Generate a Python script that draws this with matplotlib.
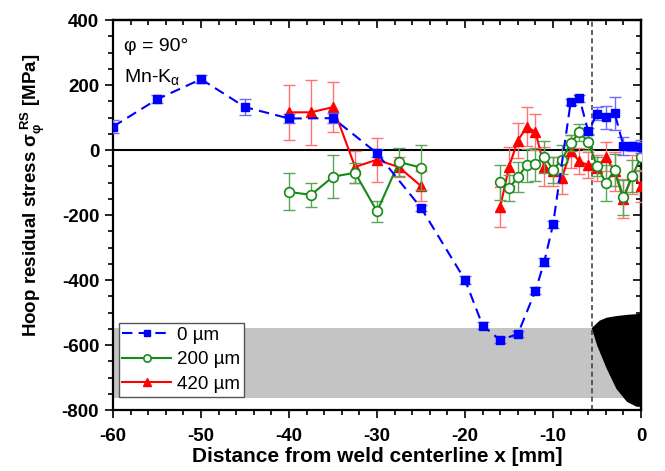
import matplotlib.pyplot as plt
from matplotlib.lines import Line2D
from matplotlib.patches import Polygon
from matplotlib.ticker import MultipleLocator

plt.rcParams['font.family'] = ['Liberation Sans', 'DejaVu Sans']
plt.rcParams['mathtext.fontset'] = 'custom'
plt.rcParams['mathtext.rm'] = 'Liberation Sans'
plt.rcParams['mathtext.it'] = 'Liberation Sans:italic'
plt.rcParams['mathtext.bf'] = 'Liberation Sans:bold'
plt.rcParams['axes.unicode_minus'] = False

# depth 0 um
x0 = [-60, -55, -50, -45, -40, -35, -30, -25, -20, -18, -16, -14, -12, -11, -10,
      -8, -7, -6, -5, -4, -3, -2, -1, 0]
s0 = [72, 156, 218, 132, 97, 98, -10, -178, -400, -540, -585, -566, -433, -344, -229,
      147, 159, 57, 111, 101, 113, 13, 11, 10]
e0 = [20, 12, 12, 25, 15, 15, 12, 10, 12, 12, 10, 10, 10, 12, 12,
      10, 10, 10, 20, 35, 50, 27, 15, 20]

# depth 200 um
x200 = [-40, -37.5, -35, -32.5, -30, -27.5, -25, -16, -15, -14, -13, -12, -11, -10,
        -9, -8, -7, -6, -5, -4, -3, -2, -1, 0]
s200 = [-129, -138, -82, -70, -189, -37, -54, -99, -118, -83, -47, -44, -21, -60,
        -30, 22, 54, 25, -50, -101, -62, -146, -80, -21]
e200 = [57, 38, 67, 31, 33, 42, 70, 54, 40, 45, 50, 50, 50, 40,
        45, 25, 25, 25, 30, 55, 50, 55, 50, 45]

# depth 420 um
x420 = [-40, -37.5, -35, -32.5, -30, -27.5, -25, -16, -15, -14, -13, -12, -11, -10,
        -9, -8, -7, -6, -5, -4, -3, -2, -1, 0]
s420 = [116, 116, 132, -52, -30, -53, -111, -175, -51, 29, 71, 56, -52, -66,
        -86, -4, -35, -47, -55, -21, -66, -150, -76, -111]
e420 = [85, 100, 76, 48, 68, 31, 46, 62, 60, 55, 60, 55, 60, 45,
        50, 50, 40, 40, 40, 45, 60, 60, 60, 50]

# weld bead cross-section outline
weld_x = [-5.6, -4.7, -3.9, -2.8, -1.5, 0, 0, -0.5, -1.6, -2.8, -3.9, -5.0]
weld_y = [-548, -525, -516, -511, -507, -504, -790, -790, -775, -735, -673, -601]
fusion_x = -5.6
band = (-762, -547)


def segments(x, y, gap=6):
    # split a scan into pieces where the measurement positions jump
    parts, start = [], 0
    for i in range(1, len(x)):
        if x[i] - x[i - 1] > gap:
            parts.append((x[start:i], y[start:i]))
            start = i
    parts.append((x[start:], y[start:]))
    return parts


fig = plt.figure(figsize=(6.65, 4.71), dpi=100)
ax = fig.add_axes([0.170, 0.1295, 0.794, 0.828])

ax.axhspan(band[0], band[1], color='#c4c4c4', lw=0, zorder=0)
ax.add_patch(Polygon(list(zip(weld_x, weld_y)), closed=True, color='black', lw=0, zorder=1))
ax.axhline(0, color='black', lw=1.5, zorder=2)
ax.axvline(fusion_x, color='#444444', lw=1.2, ls=(0, (3, 2)), zorder=2)

series = [
    (x0, s0, e0, 'blue', (0.42, 0.42, 1.0), (0, (5, 3)), dict(marker='s', ms=5.5), '0 µm', 6),
    (x200, s200, e200, '#178a17', (0.35, 0.65, 0.35), '-',
     dict(marker='o', ms=7, mfc='white', mew=1.2), '200 µm', 5),
    (x420, s420, e420, 'red', (1.0, 0.45, 0.45), '-', dict(marker='^', ms=7.5), '420 µm', 4),
]
handles = []
for x, y, e, c, ec, ls, mk, lab, z in series:
    ax.errorbar(x, y, yerr=e, fmt='none', ecolor=ec, elinewidth=1, capsize=4, zorder=z)
    for xs, ys in segments(x, y):
        ax.plot(xs, ys, color=c, ls=ls, lw=1.5, zorder=z)
    ax.plot(x, y, ls='none', color=c, mec=c, zorder=z + 0.1, **mk)
    mk_leg = dict(mk)
    mk_leg['ms'] = mk['ms'] * 0.75
    handles.append(Line2D([], [], color=c, ls=ls, lw=1.5, mec=c, label=lab, **mk_leg))

ax.set_xlim(-60, 0)
ax.set_ylim(-800, 400)
ax.xaxis.set_major_locator(MultipleLocator(10))
ax.xaxis.set_minor_locator(MultipleLocator(2))
ax.yaxis.set_major_locator(MultipleLocator(200))
ax.yaxis.set_minor_locator(MultipleLocator(50))
ax.tick_params(which='both', direction='out', width=1.2)
ax.tick_params(which='major', length=6, labelsize=13.5)
ax.tick_params(axis='x', which='major', pad=7)
ax.tick_params(axis='y', which='major', pad=4)
ax.tick_params(which='minor', length=3.5)
for lab in ax.get_xticklabels() + ax.get_yticklabels():
    lab.set_fontweight('bold')
for sp in ax.spines.values():
    sp.set_linewidth(1.6)

# mirrored inward ticks on top and right
top = ax.secondary_xaxis('top')
top.xaxis.set_major_locator(MultipleLocator(10))
top.xaxis.set_minor_locator(MultipleLocator(2))
top.tick_params(which='both', direction='in', labeltop=False, width=1.2)
top.tick_params(which='major', length=6)
top.tick_params(which='minor', length=3.5)
right = ax.secondary_yaxis('right')
right.yaxis.set_major_locator(MultipleLocator(200))
right.yaxis.set_minor_locator(MultipleLocator(50))
right.tick_params(which='both', direction='in', labelright=False, width=1.2)
right.tick_params(which='major', length=6)
right.tick_params(which='minor', length=3.5)
for a in (top, right):
    for sp in a.spines.values():
        sp.set_linewidth(1.6)

ax.set_xlabel('Distance from weld centerline x [mm]', fontsize=15, fontweight='bold')
ax.xaxis.set_label_coords(0.5, -0.095)
ax.set_ylabel(r'Hoop residual stress $\mathbf{\sigma_{\varphi}^{\ RS}}$ [MPa]',
              fontsize=13.5, fontweight='bold')
ax.yaxis.set_label_coords(-0.126, 0.55)

ax.text(-58.8, 320, 'φ = 90°', fontsize=14, va='center')
ax.text(-58.8, 226, r'Mn-K$_{\mathrm{\alpha}}$', fontsize=14, va='center')

leg = ax.legend(handles=handles, loc='lower left', bbox_to_anchor=(0.0, 0.02), fontsize=13.5,
                handlelength=2.6, handletextpad=0.3, borderpad=0.2, labelspacing=0.4,
                fancybox=False, framealpha=1, edgecolor='#555555', borderaxespad=0.3)
leg.get_frame().set_linewidth(1.0)
leg.set_zorder(10)

fig.savefig('out.png', dpi=100)
